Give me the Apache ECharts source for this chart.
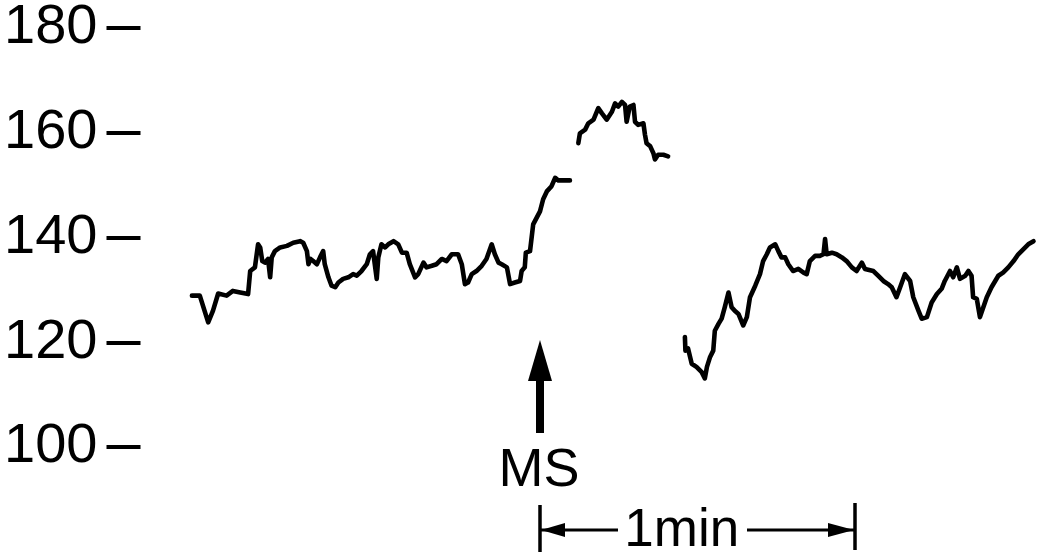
<!DOCTYPE html>
<html><head><meta charset="utf-8">
<script src="https://cdn.jsdelivr.net/npm/echarts@6/dist/echarts.min.js"></script>
<style>html,body{margin:0;padding:0;background:#fff}#c{width:1037px;height:555px}</style>
</head><body><div id="c"></div>
<script>
// y-axis tick labels (mmHg-like scale)
const yTicks = [100, 120, 140, 160, 180];

// time in seconds relative to MS (arrow), and values
const seg1T = [-66.3,-64.8,-63.2,-62.3,-61.3,-59.7,-58.5,-57.1,-55.6,-55.2,-54.3,-53.7,-53.3,-52.9,-52.4,-51.8,-51.4,-51.1,-50.5,-49.5,-48.2,-47.0,-45.7,-45.1,-44.4,-44.1,-43.7,-43.2,-42.5,-41.9,-41.3,-41.0,-40.3,-39.7,-39.0,-38.4,-37.5,-36.5,-35.6,-34.9,-34.0,-33.0,-32.4,-31.8,-31.1,-30.8,-30.2,-29.5,-28.9,-27.9,-27.0,-26.3,-25.4,-24.8,-23.8,-23.2,-22.2,-21.6,-20.6,-19.7,-18.7,-17.8,-16.8,-15.6,-14.9,-14.3,-13.7,-13.0,-12.1,-11.1,-10.2,-9.2,-8.6,-7.9,-7.3,-6.3,-5.7,-4.8,-3.8,-3.5,-2.9,-2.7,-1.9,-1.3,0.0,0.6,1.3,2.2,2.9,3.5,5.7];
const seg1V = [128.9,128.9,123.8,126.0,129.3,128.9,129.8,129.5,129.2,133.6,134.3,138.7,138.1,135.5,135.2,135.9,132.4,136.2,137.4,138.1,138.4,139.0,139.3,139.0,137.4,134.9,135.9,135.5,134.9,136.2,137.4,134.9,132.4,130.8,130.5,131.4,132.1,132.4,133.0,132.7,133.6,134.9,136.8,137.4,132.1,136.2,138.7,138.1,138.7,139.3,138.7,137.1,137.1,134.9,132.4,133.0,135.2,134.3,134.6,134.9,135.9,135.5,136.8,136.8,134.9,131.1,131.4,133.0,133.6,134.6,135.9,138.7,136.8,135.2,134.9,134.3,131.1,131.4,131.7,133.6,134.3,137.1,137.4,142.5,145.0,147.3,148.8,149.8,151.4,150.9,150.9];

const seg2T = [7.3,7.6,8.6,9.2,10.2,11.1,11.8,12.7,13.7,14.3,14.9,15.6,16.2,16.5,17.1,17.8,18.1,18.7,19.7,20.0,20.3,21.0,21.6,21.9,22.5,23.5,24.4];
const seg2V = [158.0,159.9,160.6,161.8,162.5,164.7,163.7,162.5,164.0,165.6,165.0,165.9,165.3,162.1,165.0,165.3,162.1,161.5,161.8,159.6,158.0,157.4,156.1,154.9,155.8,155.8,155.5];

const seg3T = [27.6,27.7,28.2,28.9,29.8,30.8,31.4,31.8,32.4,33.0,33.3,34.0,34.6,35.2,35.9,36.5,37.1,37.8,38.7,39.4,40.0,41.0,41.9,42.5,43.2,43.8,44.8,45.4,46.0,46.7,47.3,48.2,49.2,50.2,50.8,51.4,52.4,53.3,54.0,54.3,54.6,55.6,56.5,57.5,58.4,59.4,60.3,61.3,61.9,63.5,64.4,65.4,66.3,67.0,67.9,68.6,69.5,70.5,71.1,72.1,72.7,73.7,74.6,75.6,76.5,77.1,78.1,78.7,79.4,80.0,81.0,81.6,82.2,82.5,83.2,83.8,84.1,85.1,86.0,87.3,88.2,89.2,90.2,91.1,92.1,93.0,94.0];
const seg3V = [121.0,118.4,118.8,115.9,115.3,114.3,113.1,115.3,117.2,118.4,122.2,123.5,124.5,126.7,129.5,126.7,126.0,125.4,123.2,124.8,128.6,130.8,133.0,135.5,136.8,138.1,138.7,137.4,136.2,136.2,134.9,133.6,134.0,133.3,133.0,135.5,136.5,136.5,136.8,139.7,136.8,137.1,136.8,136.2,135.5,134.3,133.6,135.2,134.0,133.6,132.7,131.7,131.1,130.5,128.6,130.5,133.0,131.7,128.6,126.0,124.5,124.8,127.6,129.2,130.2,131.7,133.6,132.4,134.3,132.1,132.7,133.6,132.7,128.6,128.3,124.8,124.5,128.6,130.5,132.7,133.3,134.3,135.5,136.8,137.8,138.7,139.3];

// annotation: MS at time 0, scale bar of 1 min
const msTime = 0;
const scaleBar = [0, 60];
const msLabel = 'MS';
const scaleLabel = '1min';

const FONT = '"Liberation Sans", Arial, Helvetica, sans-serif';
const pairs = (t, v) => t.map((x, i) => [x, v[i]]);
const lineSeries = (t, v) => ({
  type: 'line', data: pairs(t, v), symbol: 'none', smooth: false,
  lineStyle: { color: '#000', width: 4.6, join: 'round', cap: 'round' },
  silent: true
});

const chart = echarts.init(document.getElementById('c'), null, { renderer: 'canvas' });
chart.setOption({
  animation: false,
  backgroundColor: '#fff',
  grid: { left: 172.5, right: 3.5, top: 26, bottom: 108 },
  xAxis: { type: 'value', min: -70, max: 94, show: false },
  yAxis: {
    type: 'value', min: 100, max: 180, interval: 20, offset: 32, position: 'left',
    axisLine: { show: false, onZero: false },
    axisTick: { show: true, length: 34, customValues: yTicks, lineStyle: { color: '#000', width: 4 } },
    axisLabel: { margin: 43, fontSize: 56, color: '#000', fontFamily: FONT, customValues: yTicks },
    splitLine: { show: false }
  },
  series: [lineSeries(seg1T, seg1V), lineSeries(seg2T, seg2V), lineSeries(seg3T, seg3V)]
});

const px = t => chart.convertToPixel({ xAxisIndex: 0 }, t);
const x0 = px(msTime), xa = px(scaleBar[0]), xb = px(scaleBar[1]), xt = px(27);
chart.setOption({
  graphic: [
    { type: 'polygon', shape: { points: [[x0, 340], [x0 - 12, 381], [x0 + 12, 381]] }, style: { fill: '#000' } },
    { type: 'rect', shape: { x: x0 - 4, y: 378, width: 8, height: 55 }, style: { fill: '#000' } },
    { type: 'text', x: x0 - 1, y: 471.5, style: { text: msLabel, fill: '#000', font: '54px ' + FONT, align: 'center', verticalAlign: 'middle' } },
    { type: 'line', shape: { x1: xa, y1: 505, x2: xa, y2: 552 }, style: { stroke: '#000', lineWidth: 3.5 } },
    { type: 'line', shape: { x1: xb, y1: 503, x2: xb, y2: 550 }, style: { stroke: '#000', lineWidth: 3.5 } },
    { type: 'line', shape: { x1: xa, y1: 530, x2: 618, y2: 530 }, style: { stroke: '#000', lineWidth: 3 } },
    { type: 'line', shape: { x1: 747, y1: 530, x2: xb, y2: 530 }, style: { stroke: '#000', lineWidth: 3 } },
    { type: 'polygon', shape: { points: [[xa + 1, 530], [xa + 25, 523], [xa + 25, 537]] }, style: { fill: '#000' } },
    { type: 'polygon', shape: { points: [[xb - 1, 530], [xb - 27, 523], [xb - 27, 537]] }, style: { fill: '#000' } },
    { type: 'text', x: xt, y: 531.5, style: { text: scaleLabel, fill: '#000', font: '53px ' + FONT, align: 'center', verticalAlign: 'middle' } }
  ]
});
</script>
</body></html>
